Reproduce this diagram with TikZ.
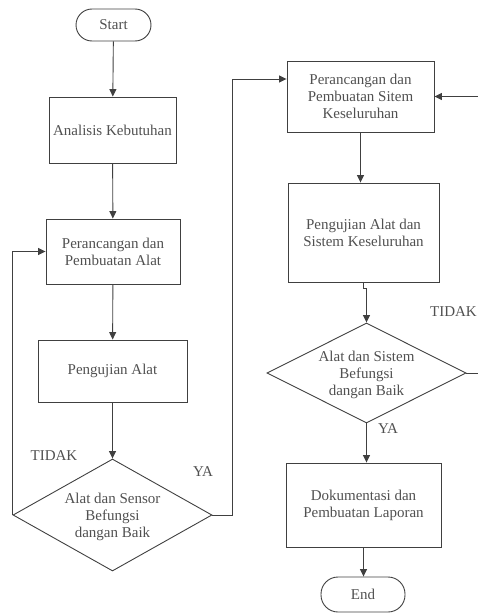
\documentclass[tikz,border=0pt]{standalone}
\usepackage{fontspec}
\setmainfont{Liberation Serif}
\usetikzlibrary{shapes.geometric,arrows.meta}
\definecolor{ln}{HTML}{404040}
\definecolor{tx}{HTML}{505050}
\tikzset{
  every node/.style={font=\fontsize{15}{17}\selectfont, text=tx},
  box/.style={draw=ln, line width=0.9pt, rectangle, align=center, inner sep=0pt},
  term/.style={draw=ln, line width=0.9pt, rectangle, rounded corners=16pt, align=center, inner sep=0pt},
  dia/.style={draw=ln, line width=0.9pt, diamond, inner sep=0pt},
  lbl/.style={align=center, inner sep=0pt},
  conn/.style={draw=ln, line width=0.9pt, -{Triangle[length=7.5pt,width=7pt]}},
  plain/.style={draw=ln, line width=0.9pt}
}
\begin{document}
\begin{tikzpicture}[x=1pt,y=-1pt]
\useasboundingbox (0,0) rectangle (478,613);
% left column
\node[term, minimum width=75pt, minimum height=32pt] (start) at (113.5,25) {Start};
\node[box, minimum width=127pt, minimum height=66pt] (ana) at (112.5,130) {Analisis Kebutuhan};
\node[box, minimum width=134pt, minimum height=65pt] (p1) at (113,251.5) {Perancangan dan\\Pembuatan Alat};
\node[box, minimum width=149pt, minimum height=62pt] (u1) at (112.5,371) {Pengujian Alat};
\node[dia, minimum width=199pt, minimum height=112pt] (d1) at (112.5,515) {};
\node[lbl] (d1t) at (112.5,517) {Alat dan Sensor\\Befungsi\\dangan Baik};
\node[lbl] (t1) at (54,456) {TIDAK};
\node[lbl] (y1) at (203,472) {YA};
% right column
\node[box, minimum width=147pt, minimum height=71pt] (p2) at (360.5,96.5) {Perancangan dan\\Pembuatan Sitem\\Keseluruhan};
\node[box, minimum width=151pt, minimum height=99pt] (u2) at (363.5,232.5) {Pengujian Alat dan\\Sistem Keseluruhan};
\node[dia, minimum width=199pt, minimum height=100pt] (d2) at (366.5,373) {};
\node[lbl] (d2t) at (366.5,375) {Alat dan Sistem\\Befungsi\\dangan Baik};
\node[lbl, anchor=east] (t2) at (477,312) {TIDAK};
\node[lbl] (y2) at (388,429) {YA};
\node[box, minimum width=155pt, minimum height=84pt] (dok) at (363.5,505) {Dokumentasi dan\\Pembuatan Laporan};
\node[term, minimum width=84pt, minimum height=35pt, rounded corners=17pt] (end) at (363,594.5) {End};
% coordinates
\coordinate (yaTurn) at (232.5,79);
\coordinate (tidakOut) at (478,373);
\coordinate (fbIn) at (478,96.5);
% connectors
\draw[conn] (start) -- (ana);
\draw[conn] (ana) -- (p1);
\draw[conn] (p1) -- (u1);
\draw[conn] (u1) -- (d1.north);
\draw[conn] (d1.west) |- (p1.west);
\draw[conn] (d1.east) -| (yaTurn) -- (p2.west |- yaTurn);
\draw[conn] (p2.south) -- (p2.south |- u2.north);
\draw[conn] (u2.south) -- ++(0,6) -| (d2.north);
\draw[plain] (d2.east) -- (tidakOut);
\draw[conn] (fbIn) -- (p2.east);
\draw[conn] (d2.south) -- (d2.south |- dok.north);
\draw[conn] (dok.south) -- (end.north -| dok.south);
\end{tikzpicture}
\end{document}
